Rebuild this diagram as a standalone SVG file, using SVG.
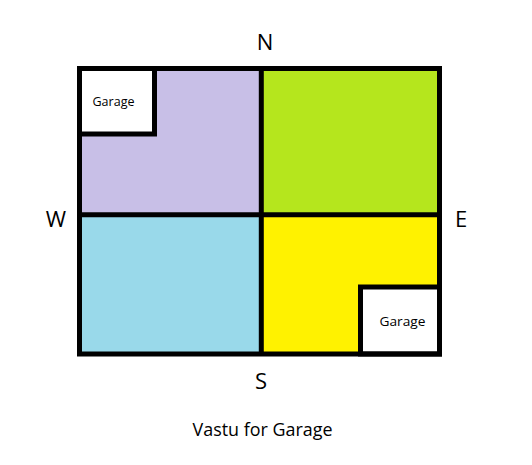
<svg xmlns="http://www.w3.org/2000/svg" width="532" height="465" viewBox="0 0 532 465">
  <style>
    .ln { stroke: #000; stroke-width: 5; fill: none; }
    .q { stroke: none; }
    .lbl { font-family: "Open Sans", "Liberation Sans", sans-serif; fill: #000; text-anchor: middle; }
    .dir { font-size: 22px; }
    .gar { font-size: 12.5px; }
  </style>
  <rect width="532" height="465" fill="#fff"/>
  <g id="nw-zone">
    <rect class="q" x="79.5" y="68.5" width="182" height="146.3" fill="#c8bfe7"/>
  </g>
  <g id="ne-zone">
    <rect class="q" x="261.3" y="68.5" width="178.2" height="146.3" fill="#b5e61d"/>
  </g>
  <g id="sw-zone">
    <rect class="q" x="79.5" y="214.8" width="182" height="139.2" fill="#99d9ea"/>
  </g>
  <g id="se-zone">
    <rect class="q" x="261.3" y="214.8" width="178.2" height="139.2" fill="#fff200"/>
  </g>
  <g id="garage-nw">
    <rect class="ln" x="79.5" y="68.5" width="75" height="65.5" fill="#fff" style="fill:#fff"/>
    <text class="lbl gar" x="113.5" y="106" textLength="42" lengthAdjust="spacingAndGlyphs">Garage</text>
  </g>
  <g id="garage-se">
    <rect class="ln" x="360.5" y="287" width="79" height="67" style="fill:#fff"/>
    <text class="lbl gar" x="402.5" y="326" style="font-size:13.5px" textLength="46" lengthAdjust="spacingAndGlyphs">Garage</text>
  </g>
  <g id="connectors">
    <line class="ln" x1="261.3" y1="68.5" x2="261.3" y2="354"/>
    <line class="ln" x1="79.5" y1="214.8" x2="439.5" y2="214.8"/>
    <rect class="ln" x="79.5" y="68.5" width="360" height="285.5"/>
  </g>
  <g id="labels">
    <text class="lbl dir" x="265" y="50">N</text>
    <text class="lbl dir" x="56" y="226.5">W</text>
    <text class="lbl dir" x="461" y="227">E</text>
    <text class="lbl dir" x="261" y="389.3">S</text>
    <text class="lbl" x="262.5" y="436" style="font-size:19px" textLength="140" lengthAdjust="spacingAndGlyphs">Vastu for Garage</text>
  </g>
</svg>
